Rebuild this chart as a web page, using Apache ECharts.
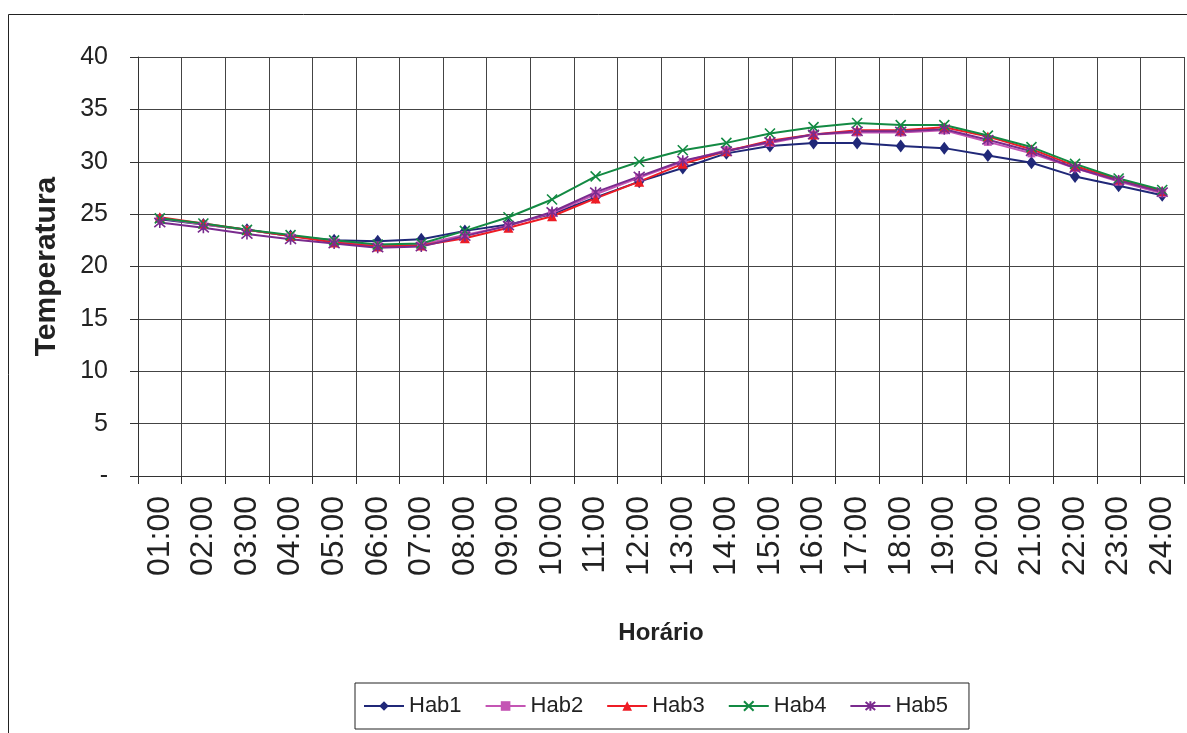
<!DOCTYPE html>
<html><head><meta charset="utf-8">
<script src="https://cdn.jsdelivr.net/npm/echarts@6/dist/echarts.min.js"></script>
<style>html,body{margin:0;padding:0;background:#fff}#c{width:1187px;height:733px}</style>
</head><body><div id="c"></div>
<script>
const categories = ['01:00','02:00','03:00','04:00','05:00','06:00','07:00','08:00','09:00','10:00','11:00','12:00','13:00','14:00','15:00','16:00','17:00','18:00','19:00','20:00','21:00','22:00','23:00','24:00'];
const hab1 = [24.5,24.0,23.5,22.9,22.5,22.4,22.6,23.4,24.0,25.0,26.6,28.1,29.4,30.8,31.5,31.8,31.8,31.5,31.3,30.6,29.9,28.6,27.7,26.8];
const hab2 = [24.6,24.0,23.5,22.9,22.4,22.0,22.1,23.0,23.9,25.1,26.9,28.5,30.0,31.1,31.8,32.6,32.8,32.8,33.0,31.9,30.8,29.4,28.1,27.0];
const hab3 = [24.7,24.1,23.5,22.9,22.3,21.9,22.0,22.7,23.7,24.8,26.5,28.1,29.8,31.0,32.0,32.6,33.0,33.0,33.3,32.4,31.2,29.6,28.3,27.2];
const hab4 = [24.6,24.1,23.5,23.0,22.5,22.1,22.2,23.4,24.7,26.4,28.6,30.0,31.1,31.8,32.7,33.3,33.7,33.5,33.5,32.5,31.4,29.8,28.4,27.3];
const hab5 = [24.2,23.7,23.1,22.6,22.2,21.8,21.9,22.9,23.9,25.2,27.1,28.6,30.1,31.0,31.9,32.6,32.9,32.9,33.1,32.1,31.0,29.4,28.2,27.1];
const seriesNames = ['Hab1','Hab2','Hab3','Hab4','Hab5'];
const yTicks = {min:0, max:40, interval:5};

const sans = '"Liberation Sans", Arial, sans-serif';

const styles = [
  {color:'#202878', symbol:'diamond', size:[10,13]},
  {color:'#C455B4', symbol:'rect', size:8},
  {color:'#EE1C25', symbol:'triangle', size:10},
  {color:'#138A43', symbol:'path://M0,0L10,10M10,0L0,10', size:10, stroke:true},
  {color:'#7A2B8E', symbol:'path://M0,0L10,10M10,0L0,10M5,-1L5,11', size:11, stroke:true}
];
const data = [hab1,hab2,hab3,hab4,hab5];

const chart = echarts.init(document.getElementById('c'));
chart.setOption({
  animation:false,
  backgroundColor:'#fff',
  graphic:[{type:'rect', shape:{x:8.5,y:14.5,width:1300,height:900}, style:{fill:'none', stroke:'#222', lineWidth:1}, silent:true}],
  grid:{left:138, top:57, right:3, bottom:257, containLabel:false},
  legend:{
    bottom:4, left:355,
    data:seriesNames,
    itemWidth:40, itemHeight:12, itemGap:23,
    padding:[12,21,12,8],
    borderColor:'#222', borderWidth:1,
    textStyle:{fontFamily:sans, fontSize:22, color:'#222'}
  },
  xAxis:{
    type:'category', data:categories, boundaryGap:true,
    name:'Horário', nameLocation:'middle', nameGap:145,
    nameTextStyle:{fontFamily:sans, fontWeight:'bold', fontSize:24, color:'#222'},
    axisLine:{lineStyle:{color:'#333', width:1}},
    axisTick:{show:true, length:8, lineStyle:{color:'#333'}},
    axisLabel:{rotate:90, margin:20, fontFamily:sans, fontSize:32, color:'#222', interval:0},
    splitLine:{show:true, lineStyle:{color:'#444', width:1}}
  },
  yAxis:{
    type:'value', min:yTicks.min, max:yTicks.max, interval:yTicks.interval,
    name:'Temperatura', nameLocation:'middle', nameGap:76, nameRotate:90,
    nameTextStyle:{fontFamily:sans, fontWeight:'bold', fontSize:30, color:'#222'},
    axisLine:{show:true, lineStyle:{color:'#333', width:1}},
    axisTick:{show:true, length:8, lineStyle:{color:'#333'}},
    axisLabel:{margin:30, fontFamily:sans, fontSize:25, color:'#222', formatter:v=> v===0 ? '-' : String(v)},
    splitLine:{show:true, lineStyle:{color:'#444', width:1}}
  },
  series: seriesNames.map((n,i)=>({
    name:n, type:'line', data:data[i],
    symbol:styles[i].symbol, symbolSize:styles[i].size, showSymbol:true,
    lineStyle:{color:styles[i].color, width:2},
    itemStyle: styles[i].stroke ? {color:styles[i].color, borderColor:styles[i].color, borderWidth:1.6}
                                : {color:styles[i].color, borderWidth:0},
    emphasis:{disabled:true}
  }))
});
</script></body></html>
